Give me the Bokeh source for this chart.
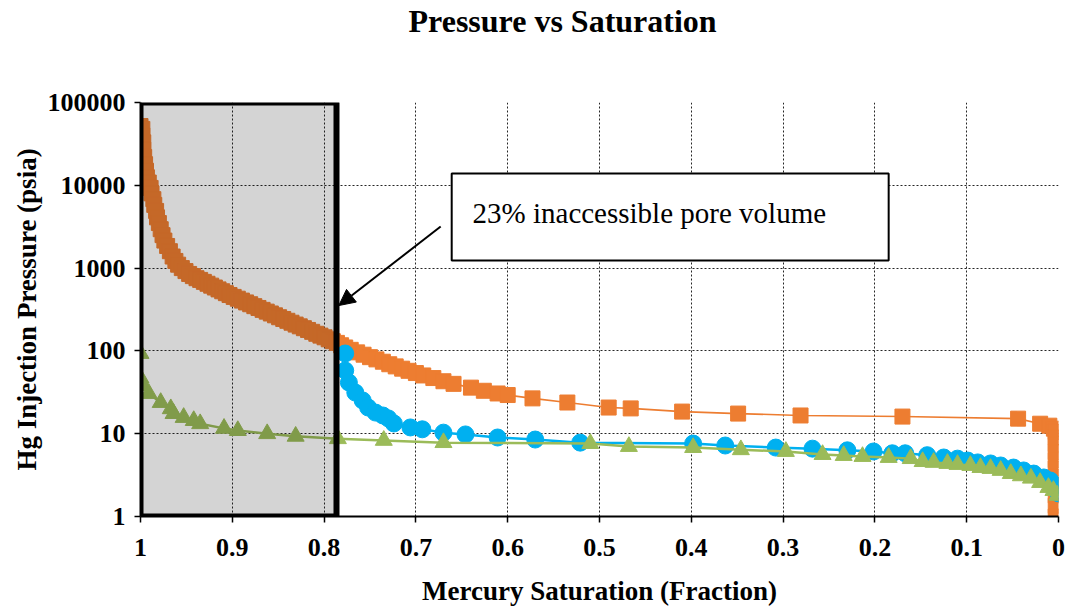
from bokeh.plotting import figure
from bokeh.models import (Range1d, FixedTicker, CustomJSTickFormatter, BoxAnnotation,
                          Label, Arrow, NormalHead, Title)
from bokeh.embed import file_html
from bokeh.resources import INLINE

# ---------------- data ----------------
orange_sat = [
    1.000, 1.000, 1.000, 1.000, 1.000, 1.000,
    0.998, 0.998, 0.997, 0.997, 0.996, 0.995, 0.994, 0.993, 0.991, 0.989,
    0.988, 0.986, 0.985, 0.983, 0.982, 0.980, 0.978, 0.976, 0.974, 0.971,
    0.968, 0.965, 0.962, 0.959, 0.955, 0.951, 0.947, 0.943, 0.939, 0.935,
    0.931, 0.927, 0.923, 0.919, 0.915, 0.911, 0.907, 0.903,
    0.8985, 0.894, 0.8895, 0.885, 0.8805, 0.876, 0.8715, 0.867, 0.8625, 0.858,
    0.8535, 0.849, 0.8445, 0.840, 0.8355, 0.831, 0.8265, 0.822, 0.8175, 0.813,
    0.8085, 0.804, 0.7995, 0.795, 0.7905, 0.786, 0.7815, 0.777,
    0.771, 0.764, 0.757, 0.750, 0.743, 0.736, 0.729, 0.722, 0.715, 0.708,
    0.700, 0.692, 0.681, 0.670, 0.659, 0.640, 0.626, 0.611, 0.600, 0.573,
    0.535, 0.490, 0.466, 0.410, 0.349, 0.281, 0.170, 0.044, 0.020, 0.010, 0.005,
    0.003, 0.003, 0.003, 0.003, 0.003, 0.003, 0.003, 0.003, 0.003, 0.003, 0.003,
]
orange_p = [
    52000, 44000, 37000, 31000, 26000, 22000,
    48000, 40000, 33000, 27000, 22000, 18000, 15000, 12500, 10800, 9300,
    8000, 6800, 5800, 4900, 4100, 3500, 2950, 2500, 2150, 1850,
    1600, 1380, 1220, 1100, 1000, 920, 850, 800, 755, 720,
    682, 647, 614, 583, 553, 525, 498, 473,
    449, 427, 405, 385, 366, 347, 330, 313, 298, 283,
    269, 255, 243, 231, 219, 208, 198, 188, 179, 170,
    161, 153, 146, 138, 131, 125, 117, 110,
    103, 96, 90, 84, 79, 74, 69, 65, 61, 57.5,
    54, 50.5, 47, 43, 40, 36, 33, 30.6, 29.3, 26.7,
    23.8, 20.7, 20.2, 18.5, 17.5, 16.6, 16.1, 15.2, 13.2, 12.5, 11.5,
    10.5, 9.0, 7.5, 6.0, 4.8, 3.8, 3.0, 2.4, 1.8, 1.35, 1.0,
]

blue_sat = [
    0.777, 0.777, 0.773, 0.766, 0.758, 0.752, 0.744, 0.736, 0.730, 0.724,
    0.706, 0.693, 0.670, 0.646, 0.611, 0.570, 0.521, 0.398, 0.363, 0.308,
    0.268, 0.230, 0.2015, 0.181, 0.167, 0.143, 0.125, 0.110, 0.099, 0.088,
    0.074, 0.063, 0.049, 0.038, 0.027, 0.016, 0.009, 0.001, 0.0,
]
blue_p = [
    93, 58, 41.5, 31.4, 25.2, 20.7, 18, 16.6, 15.3, 13.3,
    11.9, 11.3, 10.3, 9.8, 9.0, 8.5, 7.8, 7.6, 7.2, 6.8,
    6.6, 6.3, 6.1, 5.8, 5.8, 5.5, 5.16, 5.0, 4.74, 4.5,
    4.37, 4.13, 3.9, 3.6, 3.3, 2.96, 2.72, 2.37, 1.9,
]

green_sat = [
    1.0, 1.0, 0.997, 0.991, 0.978, 0.967, 0.964, 0.953, 0.942, 0.935,
    0.909, 0.894, 0.862, 0.831, 0.785, 0.735, 0.670, 0.510, 0.468, 0.398,
    0.346, 0.297, 0.257, 0.234, 0.2135, 0.185, 0.161, 0.148, 0.136, 0.121,
    0.110, 0.096, 0.085, 0.074, 0.063, 0.052, 0.041, 0.030, 0.020, 0.011,
    0.0055, 0.001,
]
green_p = [
    93, 47, 38, 30.6, 23.8, 20, 17.5, 15.7, 14.4, 13.2,
    11.6, 10.9, 10.0, 9.3, 8.7, 8.3, 7.8, 7.6, 7.0, 6.8,
    6.4, 6.1, 5.6, 5.45, 5.3, 5.16, 5.0, 4.6, 4.5, 4.37,
    4.25, 4.13, 3.9, 3.8, 3.6, 3.3, 3.1, 2.9, 2.57, 2.24,
    2.06, 1.8,
]

x_ticks = [1.0, 0.9, 0.8, 0.7, 0.6, 0.5, 0.4, 0.3, 0.2, 0.1, 0.0]
y_ticks = [1, 10, 100, 1000, 10000, 100000]

title_text = "Pressure vs Saturation"
x_label = "Mercury Saturation (Fraction)"
y_label = "Hg Injection Pressure (psia)"
note_text = "23% inaccessible pore volume"
inaccessible_edge = 0.7865

ORANGE = "#ED7D31"
BLUE = "#00B0F0"
GREEN = "#9BBB59"
SERIF = "Liberation Serif"

# ---------------- figure ----------------
p = figure(width=1066, height=610, x_range=Range1d(1, 0), y_range=Range1d(1, 100000),
           y_axis_type="log", output_backend="svg", toolbar_location=None,
           min_border_left=140, min_border_right=8, min_border_top=102, min_border_bottom=94)
p.outline_line_color = None
p.background_fill_color = "white"

p.title.text = title_text
p.title.text_font = SERIF
p.title.text_font_style = "bold"
p.title.text_font_size = "32px"
p.title.text_color = "black"
p.title.align = "left"
p.title.offset = 268
p.title.standoff = 0

# invisible spacer between the frame and the title
p.add_layout(Title(text=" ", text_font_size="55px", text_color="white", standoff=0), "above")

for ax in (p.xaxis[0], p.yaxis[0]):
    ax.axis_line_color = "black"
    ax.axis_line_width = 2
    ax.major_tick_line_color = "black"
    ax.major_tick_line_width = 1.5
    ax.major_tick_out = 6
    ax.major_tick_in = 0
    ax.minor_tick_line_color = None
    ax.major_label_text_font = SERIF
    ax.major_label_text_font_style = "bold"
    ax.major_label_text_font_size = "26px"
    ax.major_label_text_color = "black"
    ax.axis_label_text_font = SERIF
    ax.axis_label_text_font_style = "bold"
    ax.axis_label_text_font_size = "27px"
    ax.axis_label_text_color = "black"

p.xaxis.ticker = FixedTicker(ticks=x_ticks)
p.xaxis.formatter = CustomJSTickFormatter(code="return (Math.round(tick*10)/10).toString();")
p.yaxis.ticker = FixedTicker(ticks=y_ticks)
p.yaxis.formatter = CustomJSTickFormatter(code="return Math.round(tick).toString();")
p.xaxis.axis_label = x_label
p.yaxis.axis_label = y_label
p.xaxis.major_label_standoff = 16
p.yaxis.major_label_standoff = 9
p.xaxis.axis_label_standoff = 17
p.yaxis.axis_label_standoff = 3

p.xgrid.ticker = FixedTicker(ticks=x_ticks)
p.ygrid.ticker = FixedTicker(ticks=y_ticks)
for g in (p.xgrid[0], p.ygrid[0]):
    g.grid_line_color = "black"
    g.grid_line_dash = "2 2"
    g.grid_line_width = 1
    g.grid_line_alpha = 0.85

# ---------------- series ----------------
p.line(orange_sat, orange_p, line_color=ORANGE, line_width=1.6)
p.scatter(orange_sat, orange_p, marker="square", size=15, fill_color=ORANGE, line_color=ORANGE)
p.line(blue_sat, blue_p, line_color=BLUE, line_width=2.5)
p.scatter(blue_sat, blue_p, marker="circle", size=17, fill_color=BLUE, line_color=BLUE)
p.line(green_sat, green_p, line_color=GREEN, line_width=2.5)
p.scatter(green_sat, green_p, marker="triangle", size=17, fill_color=GREEN, line_color=GREEN)

# ---------------- annotations ----------------
p.add_layout(BoxAnnotation(left=inaccessible_edge, right=1.0, bottom=1, top=100000,
                           fill_color="black", fill_alpha=0.17,
                           line_color="black", line_alpha=1.0, line_width=6))
p.add_layout(BoxAnnotation(left=0.661, right=0.185, bottom=1235, top=13880,
                           fill_color="white", fill_alpha=1.0,
                           line_color="black", line_alpha=1.0, line_width=2))
p.add_layout(Label(x=0.6383, y=4690, text=note_text, text_font=SERIF,
                   text_font_size="29px", text_color="black",
                   text_align="left", text_baseline="alphabetic"))
p.add_layout(Arrow(end=NormalHead(size=16, fill_color="black", line_color="black"),
                   x_start=0.673, y_start=3178, x_end=0.784, y_end=353,
                   line_color="black", line_width=2))

open("out.html", "w").write(file_html(p, INLINE))
